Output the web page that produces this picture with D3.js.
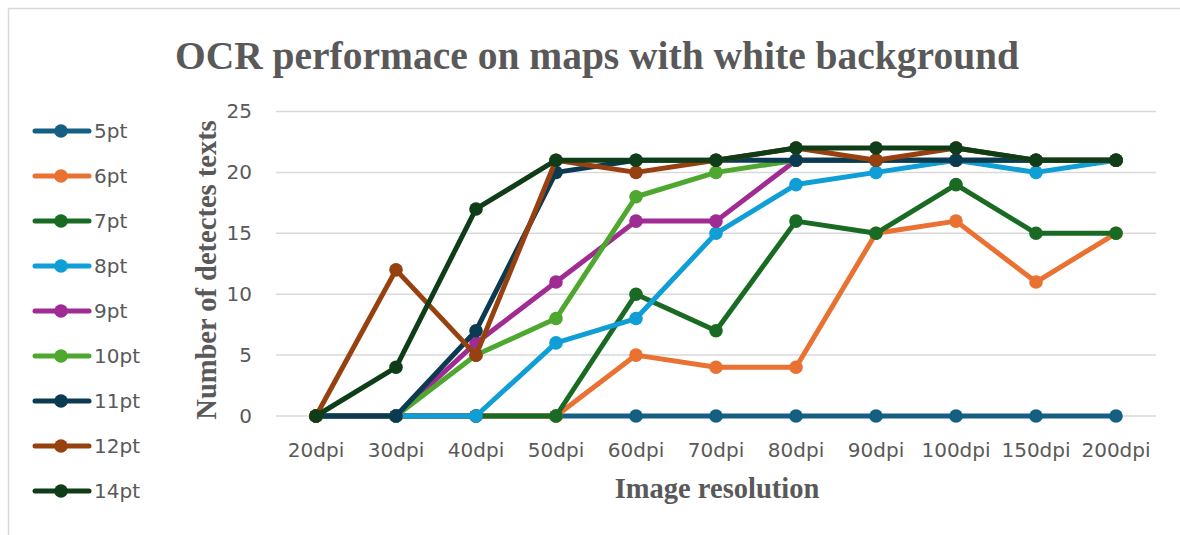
<!DOCTYPE html>
<html>
<head>
<meta charset="utf-8">
<script src="https://cdn.jsdelivr.net/npm/d3@7"></script>
<style>
  html, body { margin: 0; padding: 0; background: #fff; }
  svg { display: block; }
</style>
</head>
<body>
<svg id="chart" width="1180" height="535"></svg>
<script>
// Resolutions tested (x categories)
const resolutions = ["20dpi", "30dpi", "40dpi", "50dpi", "60dpi", "70dpi", "80dpi", "90dpi", "100dpi", "150dpi", "200dpi"];

// Detected text counts per font size
const pt5  = [0, 0, 0, 0, 0, 0, 0, 0, 0, 0, 0];
const pt6  = [0, 0, 0, 0, 5, 4, 4, 15, 16, 11, 15];
const pt7  = [0, 0, 0, 0, 10, 7, 16, 15, 19, 15, 15];
const pt8  = [0, 0, 0, 6, 8, 15, 19, 20, 21, 20, 21];
const pt9  = [0, 0, 6, 11, 16, 16, 21, 21, 21, 21, 21];
const pt10 = [0, 0, 5, 8, 18, 20, 21, 21, 21, 21, 21];
const pt11 = [0, 0, 7, 20, 21, 21, 21, 21, 21, 21, 21];
const pt12 = [0, 12, 5, 21, 20, 21, 22, 21, 22, 21, 21];
const pt14 = [0, 4, 17, 21, 21, 21, 22, 22, 22, 21, 21];

const seriesNames = ["5pt", "6pt", "7pt", "8pt", "9pt", "10pt", "11pt", "12pt", "14pt"];
const seriesValues = [pt5, pt6, pt7, pt8, pt9, pt10, pt11, pt12, pt14];
const seriesColors = ["#156082", "#e97132", "#196b24", "#0f9ed5", "#a02b93", "#4ea72e", "#0b3a52", "#974010", "#0e3d17"];
const yTicks = [0, 5, 10, 15, 20, 25];

const series = seriesNames.map((name, i) => ({ name, values: seriesValues[i], color: seriesColors[i] }));

const svg = d3.select("#chart");
const gray = "#595959";
const serif = "'Liberation Serif', 'DejaVu Serif', serif";
const sans = "'DejaVu Sans', 'Liberation Sans', sans-serif";

// Chart frame (top and left edges)
svg.append("path")
  .attr("d", "M8.5,535 V8.5 H1180")
  .attr("fill", "none")
  .attr("stroke", "#d9d9d9")
  .attr("stroke-width", 1.5);

// Title
svg.append("text")
  .attr("x", 597).attr("y", 69)
  .attr("text-anchor", "middle")
  .attr("font-family", serif)
  .attr("font-weight", "bold")
  .attr("font-size", 39.5)
  .attr("fill", gray)
  .text("OCR performace on maps with white background");

// Scales
const x = d3.scaleBand().domain(resolutions).range([276, 1156]);
const y = d3.scaleLinear().domain([0, 25]).range([416, 111.5]);
const cx = d => x(d) + x.bandwidth() / 2;

// Horizontal gridlines
svg.append("g")
  .selectAll("line")
  .data(yTicks)
  .join("line")
  .attr("x1", 276).attr("x2", 1156)
  .attr("y1", d => y(d)).attr("y2", d => y(d))
  .attr("stroke", "#d9d9d9")
  .attr("stroke-width", 1.5);

// Y axis labels
const yAxis = svg.append("g")
  .attr("transform", "translate(262,0)")
  .call(d3.axisLeft(y).tickValues(yTicks).tickSize(0).tickPadding(10));
yAxis.select(".domain").remove();
yAxis.selectAll("text")
  .attr("font-family", sans)
  .attr("font-size", 20)
  .attr("fill", gray);

// X axis labels
const xAxis = svg.append("g")
  .attr("transform", "translate(0,443)")
  .call(d3.axisBottom(x).tickSize(0).tickPadding(0));
xAxis.select(".domain").remove();
xAxis.selectAll("text")
  .attr("font-family", sans)
  .attr("font-size", 20)
  .attr("fill", gray);

// Axis titles
svg.append("text")
  .attr("transform", "translate(216,270) rotate(-90)")
  .attr("text-anchor", "middle")
  .attr("font-family", serif)
  .attr("font-weight", "bold")
  .attr("font-size", 28.5)
  .attr("fill", gray)
  .text("Number of detectes texts");

svg.append("text")
  .attr("x", 717).attr("y", 498)
  .attr("text-anchor", "middle")
  .attr("font-family", serif)
  .attr("font-weight", "bold")
  .attr("font-size", 28.5)
  .attr("fill", gray)
  .text("Image resolution");

// Lines and markers
const line = d3.line()
  .x((d, i) => cx(resolutions[i]))
  .y(d => y(d));

const lines = svg.append("g");
series.forEach(s => {
  const g = lines.append("g");
  g.append("path")
    .attr("d", line(s.values))
    .attr("fill", "none")
    .attr("stroke", s.color)
    .attr("stroke-width", 5)
    .attr("stroke-linejoin", "round")
    .attr("stroke-linecap", "round");
  g.selectAll("circle")
    .data(s.values)
    .join("circle")
    .attr("cx", (d, i) => cx(resolutions[i]))
    .attr("cy", d => y(d))
    .attr("r", 6.8)
    .attr("fill", s.color);
});

// Legend
const legend = svg.append("g");
const ly = d3.scalePoint().domain(seriesNames).range([131, 491]);
series.forEach(s => {
  const g = legend.append("g").attr("transform", `translate(0,${ly(s.name)})`);
  g.append("line")
    .attr("x1", 35).attr("x2", 89)
    .attr("stroke", s.color)
    .attr("stroke-width", 5)
    .attr("stroke-linecap", "round");
  g.append("circle").attr("cx", 61).attr("r", 6.8).attr("fill", s.color);
  g.append("text")
    .attr("x", 94).attr("dy", "0.35em")
    .attr("font-family", sans)
    .attr("font-size", 20)
    .attr("fill", gray)
    .text(s.name);
});
</script>
</body>
</html>
